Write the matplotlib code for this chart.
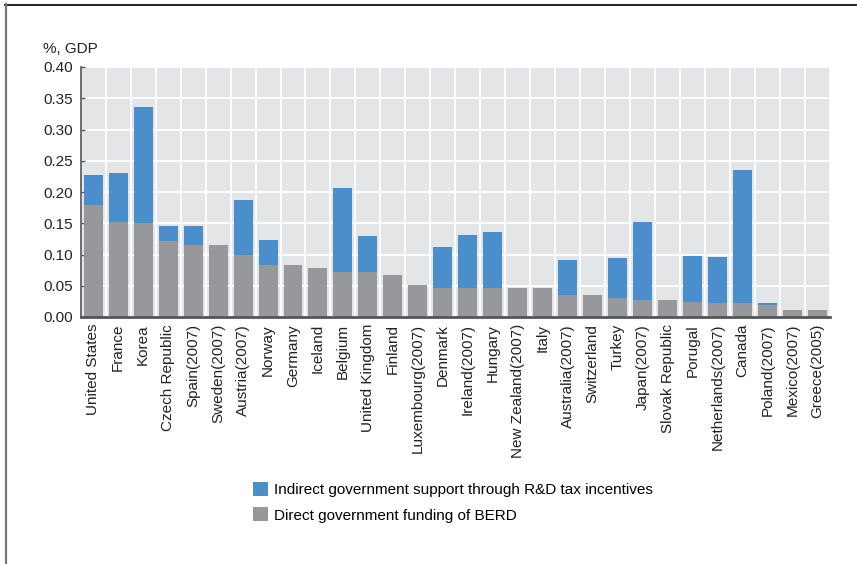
import matplotlib
matplotlib.use("Agg")
import matplotlib.pyplot as plt
from matplotlib.lines import Line2D
from matplotlib.patches import Patch
import numpy as np

plt.rcParams['font.family'] = ['Liberation Sans', 'DejaVu Sans']

countries = ["United States", "France", "Korea", "Czech Republic", "Spain(2007)",
             "Sweden(2007)", "Austria(2007)", "Norway", "Germany", "Iceland",
             "Belgium", "United Kingdom", "Finland", "Luxembourg(2007)", "Denmark",
             "Ireland(2007)", "Hungary", "New Zealand(2007)", "Italy", "Australia(2007)",
             "Switzerland", "Turkey", "Japan(2007)", "Slovak Republic", "Porugal",
             "Netherlands(2007)", "Canada", "Poland(2007)", "Mexico(2007)", "Greece(2005)"]

direct = [0.179, 0.152, 0.150, 0.121, 0.116,
          0.115, 0.099, 0.084, 0.083, 0.078,
          0.072, 0.072, 0.068, 0.052, 0.046,
          0.046, 0.046, 0.046, 0.046, 0.036,
          0.036, 0.030, 0.028, 0.027, 0.024,
          0.022, 0.022, 0.020, 0.011, 0.011]

total = [0.227, 0.230, 0.336, 0.145, 0.145,
         0.115, 0.187, 0.124, 0.083, 0.078,
         0.206, 0.129, 0.068, 0.052, 0.112,
         0.132, 0.136, 0.046, 0.046, 0.092,
         0.036, 0.094, 0.152, 0.027, 0.097,
         0.096, 0.236, 0.022, 0.011, 0.011]

indirect = [t - d for t, d in zip(total, direct)]

yticks = [0.00, 0.05, 0.10, 0.15, 0.20, 0.25, 0.30, 0.35, 0.40]

label_indirect = "Indirect government support through R&D tax incentives"
label_direct = "Direct government funding of BERD"

BLUE = "#4a8ecb"
GRAY = "#97989c"
BG = "#e4e5e7"

W, H = 857, 564
fig = plt.figure(figsize=(W / 100, H / 100), dpi=100)
ax = fig.add_axes([80.7 / W, 1 - 317 / H, 749.3 / W, 250 / H])
ax.set_facecolor(BG)

x = np.arange(len(countries))
ax.bar(x, direct, width=0.76, color=GRAY, zorder=3)
ax.bar(x, indirect, bottom=direct, width=0.76, color=BLUE, zorder=3)

ax.set_xlim(-0.5, len(countries) - 0.5)
ax.set_ylim(0, 0.40)
ax.set_yticks(yticks)
ax.set_yticklabels([f"{v:.2f}" for v in yticks], fontsize=11, color="#222222")
ax.set_xticks(x)
ax.set_xticklabels(countries, rotation=90, fontsize=11, color="#222222")
ax.tick_params(axis="x", length=0, pad=5)
ax.tick_params(axis="y", direction="in", length=3, width=1, color="#555555", pad=5.5)

ax.set_xticks(np.arange(-0.5, len(countries), 1.0), minor=True)
ax.tick_params(axis="x", which="minor", length=0)
ax.grid(True, axis="x", which="minor", color="white", linewidth=1.3, zorder=1)
ax.grid(True, axis="y", which="major", color="white", linewidth=1.3, zorder=1)
ax.grid(False, axis="x", which="major")
ax.set_axisbelow(True)

for s in ["top", "right"]:
    ax.spines[s].set_visible(False)
ax.spines["left"].set_color("#555555")
ax.spines["left"].set_linewidth(1.2)
ax.spines["bottom"].set_color("#555555")
ax.spines["bottom"].set_linewidth(2.0)
ax.spines["bottom"].set_zorder(4)

fig.text(43 / W, 1 - 49 / H, "%, GDP", fontsize=11, ha="left", va="center", color="#222222")

handles = [Patch(facecolor=BLUE, edgecolor="none"), Patch(facecolor=GRAY, edgecolor="none")]
fig.legend(handles, [label_indirect, label_direct], loc="upper left",
           bbox_to_anchor=(253 / W, 1 - 482 / H), frameon=False, fontsize=11,
           handlelength=1.0, handleheight=1.05, handletextpad=0.35,
           labelspacing=0.65, borderpad=0, borderaxespad=0)

# outer frame lines
fig.add_artist(Line2D([5 / W, 1], [1 - 4.5 / H, 1 - 4.5 / H], transform=fig.transFigure,
                      color="#111111", linewidth=1.3))
fig.add_artist(Line2D([5.5 / W, 5.5 / W], [0, 1 - 4 / H], transform=fig.transFigure,
                      color="#777777", linewidth=1.6))

fig.savefig("out.png", dpi=100)
